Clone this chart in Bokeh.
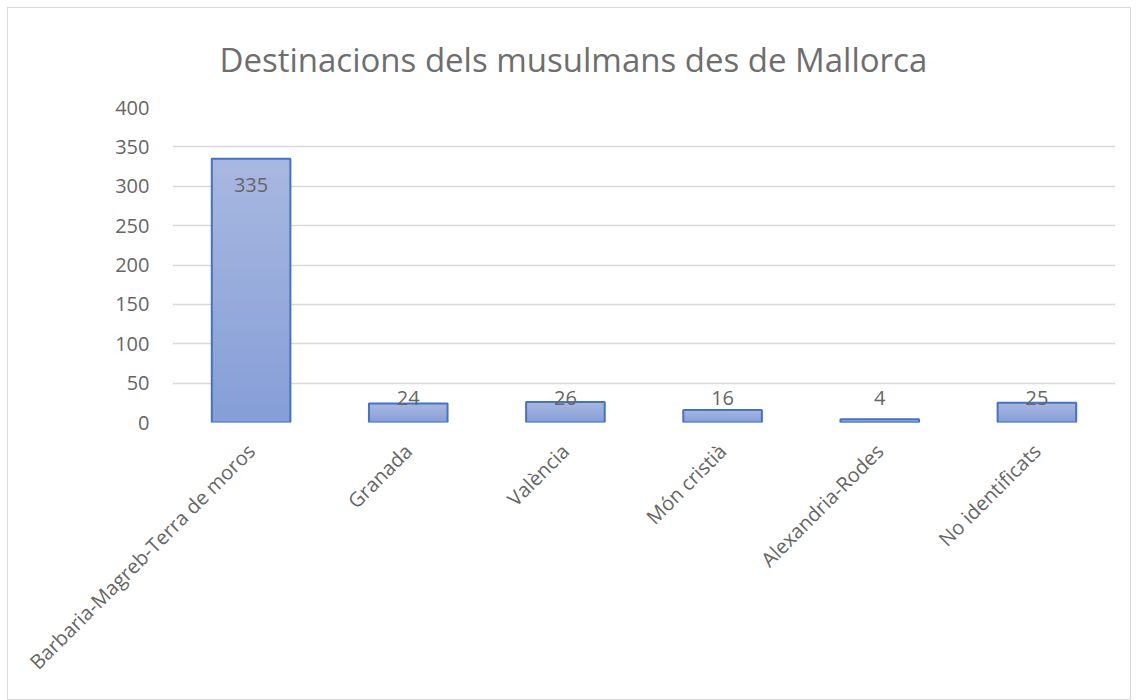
import numpy as np
from bokeh.plotting import figure
from bokeh.models import Range1d, FactorRange, SingleIntervalTicker, ColumnDataSource, Title, LabelSet
from bokeh.core.properties import value
from bokeh.embed import file_html
from bokeh.resources import INLINE

categories = ["Barbaria-Magreb-Terra de moros", "Granada", "València", "Món cristià", "Alexandria-Rodes", "No identificats"]
values = [335, 24, 26, 16, 4, 25]
y_ticks = [0, 50, 100, 150, 200, 250, 300, 350, 400]
title_text = "Destinacions dels musulmans des de Mallorca"

FONT = "Open Sans"
TXT = "#666666"
TITLE_C = "#6e6e6e"

p = figure(x_range=FactorRange(*categories), y_range=Range1d(0, 400),
           width=1124, height=693, output_backend="svg", toolbar_location=None,
           min_border_left=164, min_border_right=17, min_border_top=99, min_border_bottom=279)
p.styles = {"border": "1px solid #d9d9d9", "margin-left": "7px", "margin-top": "7px"}
p.outline_line_color = None

# gradient bars: stacked strips, each from its level up to the bar top
N = 40
top_c = np.array([0xa9, 0xb8, 0xe1])
bot_c = np.array([0x86, 0x9f, 0xd8])
xs, bots, tops, cols = [], [], [], []
for c, v in zip(categories, values):
    edges = np.linspace(0, v, N + 1)
    for i in range(N):
        t = (i + 0.5) / N
        rgb = (bot_c + (top_c - bot_c) * t).astype(int)
        xs.append(c)
        bots.append(edges[i])
        tops.append(v)
        cols.append("#%02x%02x%02x" % tuple(rgb))
p.vbar(x=xs, bottom=bots, top=tops, width=0.5, fill_color=cols, line_color=None)
p.vbar(x=categories, top=values, width=0.5, fill_alpha=0, line_color="#4472c4", line_width=2)

lab_y = np.maximum(np.array(values) - 34, 31.5)
src = ColumnDataSource(dict(x=categories, y=lab_y, t=[str(v) for v in values]))
p.add_layout(LabelSet(x="x", y="y", text="t", source=src, text_align="center", text_baseline="middle",
                      text_font=value(FONT), text_font_size=value("20px"), text_color=TXT))

p.yaxis.ticker = SingleIntervalTicker(interval=50)
p.yaxis.axis_line_color = None
p.yaxis.major_tick_line_color = None
p.yaxis.minor_tick_line_color = None
p.yaxis.major_label_standoff = 17
p.yaxis.major_label_text_font = FONT
p.yaxis.major_label_text_font_size = "20px"
p.yaxis.major_label_text_color = TXT

p.xaxis.axis_line_color = None
p.xaxis.major_tick_line_color = None
p.xaxis.minor_tick_line_color = None
p.xaxis.major_label_orientation = np.pi / 4
p.xaxis.major_label_standoff = 19
p.xaxis.major_label_text_font = FONT
p.xaxis.major_label_text_font_size = "20px"
p.xaxis.major_label_text_color = TXT

p.xgrid.grid_line_color = None
p.ygrid.grid_line_color = "#d9d9d9"
p.ygrid.grid_line_width = 1.5

p.add_layout(Title(text=title_text, text_font=FONT, text_font_size="33px", text_font_style="normal",
                   text_color=TITLE_C, align="left", offset=47, standoff=51), "above")

open("out.html", "w").write(file_html(p, INLINE))
